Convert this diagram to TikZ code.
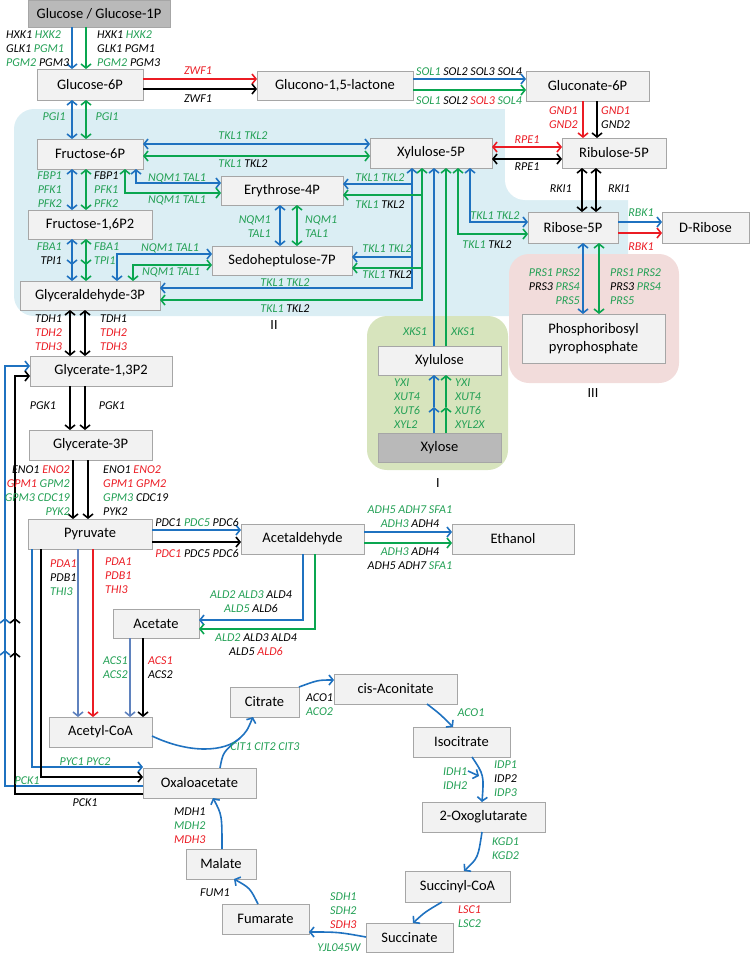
\documentclass[tikz,border=0pt]{standalone}
\usepackage{fontspec}
\setmainfont{Carlito}
\usetikzlibrary{arrows.meta}
\definecolor{cb}{RGB}{31,114,192}
\definecolor{cg}{RGB}{10,166,80}
\definecolor{lg}{RGB}{35,160,85}
\definecolor{cr}{RGB}{235,28,36}
\definecolor{cs}{RGB}{95,130,190}
\definecolor{boxfill}{RGB}{242,242,242}
\definecolor{boxline}{RGB}{166,166,166}
\definecolor{darkfill}{RGB}{185,185,185}
\definecolor{regblue}{RGB}{219,238,244}
\definecolor{regpink}{RGB}{242,220,219}
\definecolor{reggreen}{RGB}{215,228,189}
\newcommand\gn[1]{\textcolor{lg}{#1}}
\newcommand\rd[1]{\textcolor{cr}{#1}}
\newcounter{lbc}
\tikzset{
  box/.style={draw=boxline, fill=boxfill, line width=0.8pt, inner sep=0pt, outer sep=0pt,
    font=\fontsize{14.5}{18}\selectfont, align=center},
  dbox/.style={box, fill=darkfill},
  lab/.style={inner sep=0pt, font=\itshape\fontsize{12}{14}\selectfont},
  con/.style={line width=1.6pt},
  >={Straight Barb[length=4pt,width=10pt]},
}
\newcommand\bx[7][box]{\node[#1, minimum width={#4-#2}, minimum height={#5-#3}] (#6) at ({(#2+#4)/2},{(#3+#5)/2}) {#7};}
\newcommand\lb[4][]{\stepcounter{lbc}\node[lab,#1] (lab\arabic{lbc}) at (#2,#3) {#4};}
\begin{document}
\begin{tikzpicture}[x=1pt,y=-1pt]
\useasboundingbox (0,0) rectangle (750,953);
% regions
\fill[regblue, rounded corners=20pt] (14,109) rectangle (628,316);
\fill[white, rounded corners=20pt] (505,90) rectangle (780,200);
\fill[regpink, rounded corners=20pt] (509,254) rectangle (679,383);
\fill[reggreen, rounded corners=20pt] (367,316) rectangle (508,470);
\node[font=\fontsize{14}{16}\selectfont, inner sep=0pt] (rI) at (438,483) {I};
\node[font=\fontsize{14}{16}\selectfont, inner sep=0pt] (rII) at (274,325) {II};
\node[font=\fontsize{14}{16}\selectfont, inner sep=0pt] (rIII) at (593,393) {III};
% boxes
\bx[dbox]{28}{0}{170}{27}{glc}{Glucose / Glucose-1P}
\bx{37}{69}{143}{100}{g6p}{Glucose-6P}
\bx{257}{71}{413}{100}{gl}{Glucono-1,5-lactone}
\bx{526}{71}{649}{101}{gn6}{Gluconate-6P}
\bx{562}{138}{666}{168}{ru5}{Ribulose-5P}
\bx{370}{138}{492}{168}{x5p}{Xylulose-5P}
\bx{37}{139}{143}{169}{f6p}{Fructose-6P}
\bx{28}{210}{152}{239}{f16}{Fructose-1,6P2}
\bx{221}{176}{343}{205}{e4p}{Erythrose-4P}
\bx{212}{246}{352}{275}{s7p}{Sedoheptulose-7P}
\bx{20}{281}{160}{310}{ga3}{Glyceraldehyde-3P}
\bx{528}{212}{618}{243}{r5p}{Ribose-5P}
\bx{662}{212}{749}{243}{drib}{D-Ribose}
\bx{522}{314}{665}{363}{prpp}{Phosphoribosyl\\pyrophosphate}
\bx{378}{346}{501}{375}{xlu}{Xylulose}
\bx[dbox]{378}{433}{501}{462}{xyl}{Xylose}
\bx{30}{356}{172}{386}{g13}{Glycerate-1,3P2}
\bx{29}{430}{152}{460}{g3p}{Glycerate-3P}
\bx{28}{519}{152}{549}{pyr}{Pyruvate}
\bx{241}{524}{364}{554}{acd}{Acetaldehyde}
\bx{452}{524}{574}{554}{eth}{Ethanol}
\bx{113}{609}{199}{638}{act}{Acetate}
\bx{49}{717}{152}{747}{acoa}{Acetyl-CoA}
\bx{143}{768}{256}{798}{oaa}{Oxaloacetate}
\bx{230}{687}{299}{717}{cit}{Citrate}
\bx{334}{674}{457}{704}{cis}{cis-Aconitate}
\bx{413}{727}{510}{757}{iso}{Isocitrate}
\bx{422}{802}{545}{832}{oxg}{2-Oxoglutarate}
\bx{405}{871}{510}{902}{scoa}{Succinyl-CoA}
\bx{366}{923}{453}{952}{suc}{Succinate}
\bx{222}{904}{309}{934}{fum}{Fumarate}
\bx{186}{849}{256}{879}{mal}{Malate}
% junction coordinates
\coordinate (jb1) at (412,184);
\coordinate (jb2) at (412,257);
\coordinate (jg1) at (422,195);
\coordinate (jg2) at (422,268);
\coordinate (mxb) at (434,407);
\coordinate (mxg) at (446,407);
\coordinate (jc) at (240,738);
% glucose / PPP
\draw[con,cb,->] (72,0|-glc.south) -- (72,0|-g6p.north);
\draw[con,cg,->] (86,0|-glc.south) -- (86,0|-g6p.north);
\draw[con,cr,->] (g6p.east|-0,79) -- (gl.west|-0,79);
\draw[con,black,->] (g6p.east|-0,89) -- (gl.west|-0,89);
\draw[con,cb,->] (gl.east|-0,79) -- (gn6.west|-0,79);
\draw[con,cg,->] (gl.east|-0,90) -- (gn6.west|-0,90);
\draw[con,cr,->] (583,0|-gn6.south) -- (583,0|-ru5.north);
\draw[con,black,->] (597,0|-gn6.south) -- (597,0|-ru5.north);
\draw[con,cr,<->] (x5p.east|-0,147) -- (ru5.west|-0,147);
\draw[con,black,<->] (x5p.east|-0,159) -- (ru5.west|-0,159);
\draw[con,black,<->] (582,0|-ru5.south) -- (582,0|-r5p.north);
\draw[con,black,<->] (596,0|-ru5.south) -- (596,0|-r5p.north);
\draw[con,cb,->] (r5p.east|-0,222) -- (drib.west|-0,222);
\draw[con,cr,->] (r5p.east|-0,233) -- (drib.west|-0,233);
\draw[con,cb,<->] (583,0|-r5p.south) -- (583,0|-prpp.north);
\draw[con,cg,<->] (599,0|-r5p.south) -- (599,0|-prpp.north);
% upper glycolysis
\draw[con,cb,<->] (72,0|-g6p.south) -- (72,0|-f6p.north);
\draw[con,cg,<->] (86,0|-g6p.south) -- (86,0|-f6p.north);
\draw[con,cb,<->] (f6p.east|-0,144) -- (x5p.west|-0,144);
\draw[con,cg,<->] (f6p.east|-0,156) -- (x5p.west|-0,156);
\draw[con,cb,<->] (72,0|-f6p.south) -- (72,0|-f16.north);
\draw[con,cg,<->] (86,0|-f6p.south) -- (86,0|-f16.north);
\draw[con,cb,<->] (136,0|-f6p.south) |- (e4p.west|-0,183);
\draw[con,cg,<->] (125,0|-f6p.south) |- (e4p.west|-0,193);
\draw[con,cb,<->] (280,0|-e4p.south) -- (280,0|-s7p.north);
\draw[con,cg,<->] (297,0|-e4p.south) -- (297,0|-s7p.north);
% xylulose-5P branches
\draw[con,cb,<->] (412,0|-x5p.south) |- (ga3.east|-0,288);
\draw[con,cb,->] (jb1) -- (e4p.east|-jb1);
\draw[con,cb,->] (jb2) -- (s7p.east|-jb2);
\draw[con,cg,<->] (422,0|-x5p.south) |- (ga3.east|-0,300);
\draw[con,cg,->] (jg1) -- (e4p.east|-jg1);
\draw[con,cg,->] (jg2) -- (s7p.east|-jg2);
\draw[con,cb,<->] (470,0|-x5p.south) |- (r5p.west|-0,222);
\draw[con,cg,<->] (458,0|-x5p.south) |- (r5p.west|-0,234);
\draw[con,cb,->] (434,0|-xlu.north) -- (434,0|-x5p.south);
\draw[con,cg,->] (446,0|-xlu.north) -- (446,0|-x5p.south);
\draw[con,cb,->] (434,0|-xyl.north) -- (mxb);
\draw[con,cb,->] (mxb) -- (434,0|-xlu.south);
\draw[con,cg,->] (446,0|-xyl.north) -- (mxg);
\draw[con,cg,->] (mxg) -- (446,0|-xlu.south);
\draw[con,cb,<->] (s7p.west|-0,254) -| (117,0|-ga3.north);
\draw[con,cg,<->] (s7p.west|-0,265) -| (133,0|-ga3.north);
\draw[con,cb,<->] (72,0|-f16.south) -- (72,0|-ga3.north);
\draw[con,cb,->] (72,255) -- (72,265);
\draw[con,cg,<->] (86,0|-f16.south) -- (86,0|-ga3.north);
\draw[con,cg,->] (86,255) -- (86,265);
% lower glycolysis
\draw[con,black,<->] (70,0|-ga3.south) -- (70,0|-g13.north);
\draw[con,black,<->] (85,0|-ga3.south) -- (85,0|-g13.north);
\draw[con,black,->] (70,0|-g13.south) -- (70,0|-g3p.north);
\draw[con,black,->] (85,0|-g13.south) -- (85,0|-g3p.north);
\draw[con,black,->] (73,0|-g3p.south) -- (73,0|-pyr.north);
\draw[con,black,->] (88,0|-g3p.south) -- (88,0|-pyr.north);
\draw[con,cb,->] (pyr.east|-0,530) -- (acd.west|-0,530);
\draw[con,black,->] (pyr.east|-0,542) -- (acd.west|-0,542);
\draw[con,cb,->] (acd.east|-0,532) -- (eth.west|-0,532);
\draw[con,cg,->] (acd.east|-0,543) -- (eth.west|-0,543);
\draw[con,cb,->] (303,0|-acd.south) |- (act.east|-0,620);
\draw[con,cg,->] (315,0|-acd.south) |- (act.east|-0,629);
\draw[con,cs,->] (78,0|-pyr.south) -- (78,0|-acoa.north);
\draw[con,cr,->] (93,0|-pyr.south) -- (93,0|-acoa.north);
\draw[con,cs,->] (130,0|-act.south) -- (130,0|-acoa.north);
\draw[con,black,->] (143,0|-act.south) -- (143,0|-acoa.north);
\draw[con,cb,->] (32,0|-pyr.south) |- (oaa.west|-0,767);
\draw[con,black,->] (41,0|-pyr.south) |- (oaa.west|-0,777);
\draw[con,cb,->] (oaa.west|-0,786) -| (5,366) -- (g13.west|-0,366);
\draw[con,black,->] (oaa.west|-0,794) -| (15,376) -- (g13.west|-0,376);
\draw[con,cb,->] (5,640) -- (5,618);
\draw[con,black,->] (15,640) -- (15,618);
\draw[con,cb,->] (5,670) -- (5,650);
\draw[con,black,->] (15,672) -- (15,652);
% TCA
\draw[con,cb] (acoa.east|-0,736) .. controls (190,754) and (225,752) .. (jc);
\draw[con,cb] (220,0|-oaa.north) .. controls (223,752) .. (jc);
\draw[con,cb,->] (jc) .. controls (247,731) .. (253,0|-cit.south);
\draw[con,cb,->] (cit.north east) .. controls (318,680) .. (cis.west|-0,680);
\draw[con,cb,->] (427,0|-cis.south) .. controls (440,714) .. (453,0|-iso.north);
\draw[con,cb,->] (472,0|-iso.south) .. controls (484,775) .. (482,0|-oxg.north);
\draw[con,cb,->] (468,771) -- (479,776);
\draw[con,cb,->] (482,0|-oxg.south) .. controls (478,858) .. (464,0|-scoa.north);
\draw[con,cb,->] (442,0|-scoa.south) .. controls (425,912) .. (413,0|-suc.north);
\draw[con,cb,->] (suc.west|-0,937) .. controls (338,932) .. (fum.east|-0,932);
\draw[con,cb,->] (258,0|-fum.north) .. controls (250,888) .. (234,0|-mal.south);
\draw[con,cb,->] (222,0|-mal.north) .. controls (222,815) .. (213,0|-oaa.south);
% labels
\lb[anchor=west,align=left]{6}{49}{HXK1 \gn{HXK2}\\GLK1 \gn{PGM1}\\\gn{PGM2} PGM3}
\lb[anchor=west,align=left]{97}{49}{HXK1 \gn{HXK2}\\GLK1 PGM1\\\gn{PGM2} PGM3}
\lb{198}{71}{\rd{ZWF1}}
\lb{198}{99}{ZWF1}
\lb[anchor=west]{416}{72}{\gn{SOL1} SOL2 SOL3 SOL4}
\lb[anchor=west]{416}{101}{\gn{SOL1} SOL2 \rd{SOL3} \gn{SOL4}}
\lb[anchor=east,align=right]{578}{118}{\rd{GND1}\\\rd{GND2}}
\lb[anchor=west,align=left]{601}{118}{\rd{GND1}\\GND2}
\lb{527}{140}{\rd{RPE1}}
\lb{527}{167}{RPE1}
\lb[anchor=east]{572}{189}{RKI1}
\lb[anchor=west]{608}{189}{RKI1}
\lb{641}{213}{\gn{RBK1}}
\lb{641}{247}{\rd{RBK1}}
\lb[anchor=east,align=right]{580}{287}{\gn{PRS1 PRS2}\\PRS3 \gn{PRS4}\\\gn{PRS5}}
\lb[anchor=west,align=left]{610}{287}{\gn{PRS1 PRS2}\\PRS3 \gn{PRS4}\\\gn{PRS5}}
\lb{54}{117}{\gn{PGI1}}
\lb{107}{117}{\gn{PGI1}}
\lb{243}{136}{\gn{TKL1 TKL2}}
\lb{243}{164}{\gn{TKL1} TKL2}
\lb[anchor=east,align=right]{62}{190}{\gn{FBP1}\\\gn{PFK1}\\\gn{PFK2}}
\lb[anchor=west,align=left]{94}{190}{FBP1\\\gn{PFK1}\\\gn{PFK2}}
\lb{177}{178}{\gn{NQM1 TAL1}}
\lb{177}{200}{\gn{NQM1 TAL1}}
\lb[anchor=east,align=right]{271}{227}{\gn{NQM1}\\\gn{TAL1}}
\lb[anchor=west,align=left]{305}{227}{\gn{NQM1}\\\gn{TAL1}}
\lb{380}{178}{\gn{TKL1 TKL2}}
\lb{380}{205}{\gn{TKL1} TKL2}
\lb{387}{249}{\gn{TKL1 TKL2}}
\lb{387}{275}{\gn{TKL1} TKL2}
\lb{285}{283}{\gn{TKL1 TKL2}}
\lb{285}{309}{\gn{TKL1} TKL2}
\lb{495}{216}{\gn{TKL1 TKL2}}
\lb{487}{245}{\gn{TKL1} TKL2}
\lb[anchor=east,align=right]{62}{254}{\gn{FBA1}\\TPI1}
\lb[anchor=west,align=left]{94}{254}{\gn{FBA1}\\\gn{TPI1}}
\lb{170}{248}{\gn{NQM1 TAL1}}
\lb{171}{272}{\gn{NQM1 TAL1}}
\lb{415}{332}{\gn{XKS1}}
\lb{463}{332}{\gn{XKS1}}
\lb[anchor=west,align=left]{394}{404}{\gn{YXI}\\\gn{XUT4}\\\gn{XUT6}\\\gn{XYL2}}
\lb[anchor=west,align=left]{455}{404}{\gn{YXI}\\\gn{XUT4}\\\gn{XUT6}\\\gn{XYL2X}}
\lb[anchor=west,align=left]{35}{333}{TDH1\\\rd{TDH2}\\\rd{TDH3}}
\lb[anchor=west,align=left]{100}{333}{TDH1\\\rd{TDH2}\\\rd{TDH3}}
\lb{43}{406}{PGK1}
\lb{112}{406}{PGK1}
\lb[anchor=east,align=right]{70}{491}{ENO1 \rd{ENO2}\\\rd{GPM1} \gn{GPM2}\\\gn{GPM3 CDC19}\\\gn{PYK2}}
\lb[anchor=west,align=left]{103}{491}{ENO1 \rd{ENO2}\\\rd{GPM1 GPM2}\\\gn{GPM3} CDC19\\PYK2}
\lb{197}{522}{PDC1 \gn{PDC5} PDC6}
\lb{197}{553}{\rd{PDC1} PDC5 PDC6}
\lb[align=center]{410}{517}{\gn{ADH5 ADH7 SFA1}\\\gn{ADH3} ADH4}
\lb[align=center]{410}{559}{\gn{ADH3} ADH4\\ADH5 ADH7 \gn{SFA1}}
\lb[align=center]{251}{602}{\gn{ALD2 ALD3} ALD4\\\gn{ALD5} ALD6}
\lb[align=center]{256}{645}{\gn{ALD2} ALD3 ALD4\\ALD5 \rd{ALD6}}
\lb[anchor=west,align=left]{50}{578}{\rd{PDA1}\\PDB1\\\gn{THI3}}
\lb[anchor=west,align=left]{105}{576}{\rd{PDA1}\\\rd{PDB1}\\\rd{THI3}}
\lb[anchor=west,align=left]{103}{668}{\gn{ACS1}\\\gn{ACS2}}
\lb[anchor=west,align=left]{148}{668}{\rd{ACS1}\\ACS2}
\lb{85}{762}{\gn{PYC1 PYC2}}
\lb{27}{781}{\gn{PCK1}}
\lb{85}{803}{PCK1}
\lb{265}{747}{\gn{CIT1 CIT2 CIT3}}
\lb[anchor=west,align=left]{306}{705}{ACO1\\\gn{ACO2}}
\lb{471}{713}{\gn{ACO1}}
\lb[anchor=west,align=left]{443}{779}{\gn{IDH1}\\\gn{IDH2}}
\lb[anchor=west,align=left]{494}{779}{\gn{IDP1}\\IDP2\\\gn{IDP3}}
\lb[anchor=west,align=left]{492}{849}{\gn{KGD1}\\\gn{KGD2}}
\lb[anchor=west,align=left]{458}{917}{\rd{LSC1}\\\gn{LSC2}}
\lb[anchor=west,align=left]{330}{911}{\gn{SDH1}\\\gn{SDH2}\\\rd{SDH3}}
\lb{339}{948}{\gn{YJL045W}}
\lb{215}{893}{FUM1}
\lb[anchor=west,align=left]{174}{826}{MDH1\\\gn{MDH2}\\\rd{MDH3}}
\end{tikzpicture}
\end{document}
